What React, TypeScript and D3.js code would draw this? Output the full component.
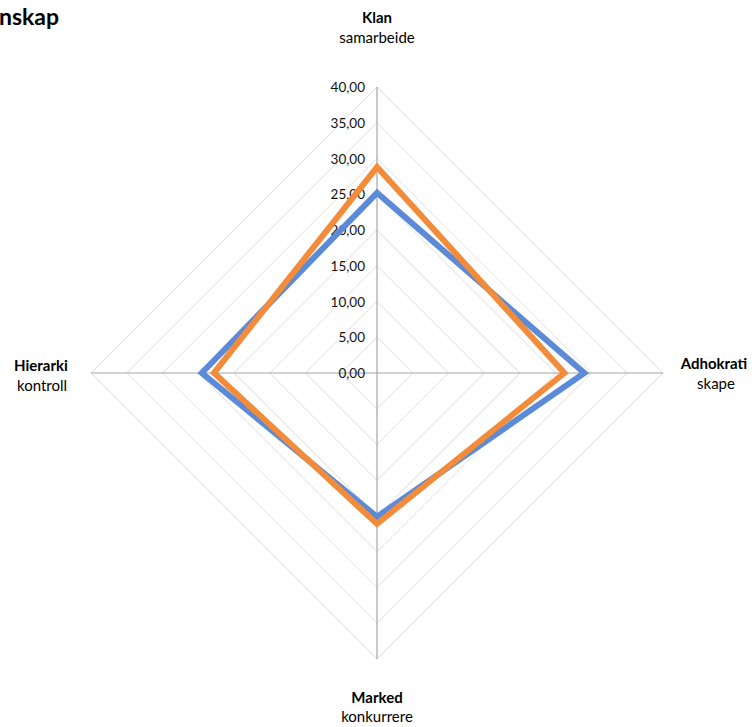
import React from "react";
import * as d3 from "d3";

// Axes of the culture profile (bold name + subtitle)
const axisNames = ["Klan", "Adhokrati", "Marked", "Hierarki"];
const axisSubs = ["samarbeide", "skape", "konkurrere", "kontroll"];

// Two profiles, values in axis order above
const seriesBlue = [25.2, 29.0, 20.1, 24.5];
const seriesOrange = [28.8, 26.2, 21.1, 22.8];

const tickValues = [0, 5, 10, 15, 20, 25, 30, 35, 40];
const tickLabels = ["0,00", "5,00", "10,00", "15,00", "20,00", "25,00", "30,00", "35,00", "40,00"];

const W = 752;
const H = 727;
const cx = 377;
const cy = 373;
const R = 286;
const FONT = "Lato, 'Open Sans', sans-serif";

export default function App() {
  const r = d3.scaleLinear().domain([0, 40]).range([0, R]);
  const angle = (i: number) => (i * Math.PI * 2) / axisNames.length;
  const pt = (i: number, v: number): [number, number] => [
    cx + r(v) * Math.sin(angle(i)),
    cy - r(v) * Math.cos(angle(i)),
  ];

  const closedLine = d3
    .line<number>()
    .x((v, i) => pt(i, v)[0])
    .y((v, i) => pt(i, v)[1])
    .curve(d3.curveLinearClosed);

  const rings = tickValues.filter((t) => t > 0);

  const labelPos = [
    { x: cx, y1: 23, y2: 43, sx: cx },
    { x: 714, y1: 369, y2: 389, sx: 716 },
    { x: cx, y1: 703, y2: 722, sx: cx },
    { x: 41, y1: 371, y2: 391, sx: 42 },
  ];

  return (
    <svg
      width={W}
      height={H}
      style={{ position: "absolute", left: 0, top: 0, background: "#fff" }}
      fontFamily={FONT}
    >
      <rect width={W} height={H} fill="#fff" />
      <text x={-1} y={25} fontSize={23} fontWeight={700} fill="#000">
        nskap
      </text>

      {/* grid rings */}
      {rings.map((t) => (
        <path
          key={t}
          d={closedLine(axisNames.map(() => t)) || ""}
          fill="none"
          stroke="#dedede"
          strokeWidth={1}
        />
      ))}

      {/* spokes */}
      {axisNames.map((_, i) => {
        const [x, y] = pt(i, 40);
        return <line key={i} x1={cx} y1={cy} x2={x} y2={y} stroke="#a6a6a6" strokeWidth={1.2} />;
      })}

      {/* radial tick labels */}
      {tickValues.map((t, i) => (
        <text
          key={t}
          x={cx - 12}
          y={cy - r(t) + 5}
          textAnchor="end"
          fontSize={13.5}
          fill="#111"
        >
          {tickLabels[i]}
        </text>
      ))}

      {/* data series */}
      <path
        d={closedLine(seriesBlue) || ""}
        fill="none"
        stroke="#5B8AD8"
        strokeWidth={6}
        strokeLinejoin="miter"
      />
      <path
        d={closedLine(seriesOrange) || ""}
        fill="none"
        stroke="#F28C3B"
        strokeWidth={6}
        strokeLinejoin="miter"
      />

      {/* axis labels */}
      {axisNames.map((name, i) => (
        <g key={name}>
          <text x={labelPos[i].x} y={labelPos[i].y1} textAnchor="middle" fontSize={15} fontWeight={700} fill="#000">
            {name}
          </text>
          <text x={labelPos[i].sx} y={labelPos[i].y2} textAnchor="middle" fontSize={15} fill="#000">
            {axisSubs[i]}
          </text>
        </g>
      ))}
    </svg>
  );
}
